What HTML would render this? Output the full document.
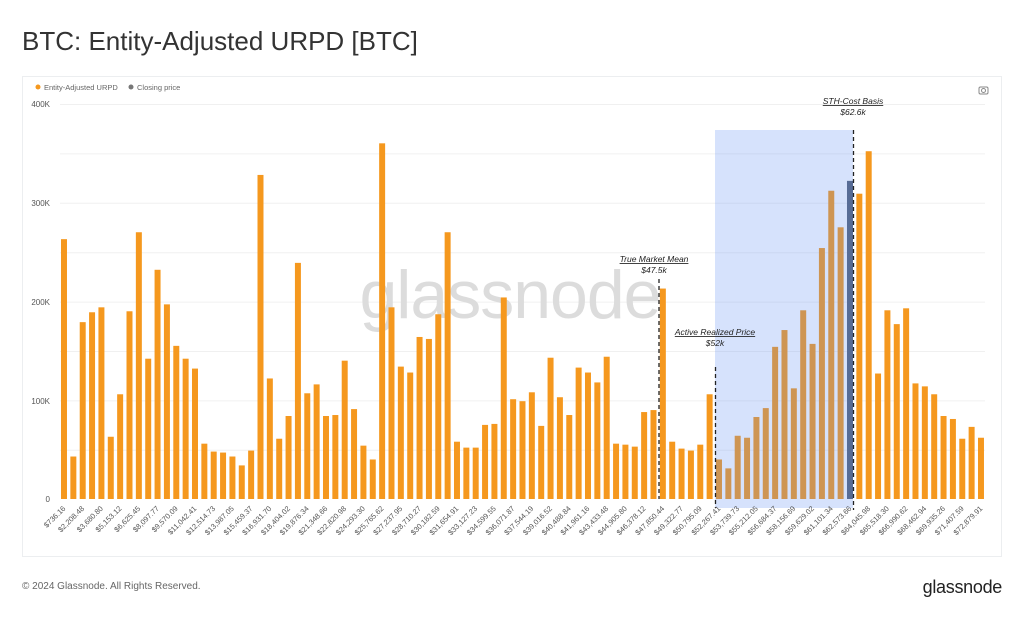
<!DOCTYPE html>
<html><head><meta charset="utf-8"><style>
body{margin:0;background:#fff;width:1024px;height:618px;overflow:hidden;font-family:"Liberation Sans",sans-serif}
</style></head><body>
<svg width="1024" height="618" xmlns="http://www.w3.org/2000/svg" font-family="Liberation Sans, sans-serif">
<text x="22" y="50" font-size="26" fill="#333">BTC: Entity-Adjusted URPD [BTC]</text>
<rect x="22.5" y="76.5" width="979" height="480" fill="#fff" stroke="#eceef0"/>
<circle cx="38" cy="87" r="2.5" fill="#f5981e"/>
<text x="44" y="90" font-size="7.5" fill="#666">Entity-Adjusted URPD</text>
<circle cx="131" cy="87" r="2.5" fill="#777"/>
<text x="137" y="90" font-size="7.5" fill="#666">Closing price</text>
<g fill="none" stroke="#888" stroke-width="1"><rect x="979" y="87" width="9" height="7" rx="1.5"/><circle cx="983.5" cy="90.5" r="2"/></g>
<g stroke="#f0f0f0" stroke-width="1">
<line x1="60" y1="104.5" x2="985" y2="104.5"/><line x1="60" y1="153.9" x2="985" y2="153.9"/><line x1="60" y1="203.3" x2="985" y2="203.3"/><line x1="60" y1="252.7" x2="985" y2="252.7"/><line x1="60" y1="302.1" x2="985" y2="302.1"/><line x1="60" y1="351.5" x2="985" y2="351.5"/><line x1="60" y1="400.9" x2="985" y2="400.9"/><line x1="60" y1="450.3" x2="985" y2="450.3"/>
</g>
<g font-size="8" fill="#555" text-anchor="end">
<text x="50" y="107">400K</text><text x="50" y="206">300K</text><text x="50" y="305">200K</text><text x="50" y="404">100K</text><text x="50" y="502">0</text>
</g>
<text x="510" y="318" font-size="68" fill="#dcdcdc" text-anchor="middle" letter-spacing="-1">glassnode</text>
<g transform="translate(61,499) scale(9.357,-0.988)" fill="#f5981e">
<rect x="0" width="0.64" height="263"/><rect x="1" width="0.64" height="43"/><rect x="2" width="0.64" height="179"/><rect x="3" width="0.64" height="189"/><rect x="4" width="0.64" height="194"/><rect x="5" width="0.64" height="63"/><rect x="6" width="0.64" height="106"/><rect x="7" width="0.64" height="190"/><rect x="8" width="0.64" height="270"/><rect x="9" width="0.64" height="142"/>
<rect x="10" width="0.64" height="232"/><rect x="11" width="0.64" height="197"/><rect x="12" width="0.64" height="155"/><rect x="13" width="0.64" height="142"/><rect x="14" width="0.64" height="132"/><rect x="15" width="0.64" height="56"/><rect x="16" width="0.64" height="48"/><rect x="17" width="0.64" height="47"/><rect x="18" width="0.64" height="43"/><rect x="19" width="0.64" height="34"/>
<rect x="20" width="0.64" height="49"/><rect x="21" width="0.64" height="328"/><rect x="22" width="0.64" height="122"/><rect x="23" width="0.64" height="61"/><rect x="24" width="0.64" height="84"/><rect x="25" width="0.64" height="239"/><rect x="26" width="0.64" height="107"/><rect x="27" width="0.64" height="116"/><rect x="28" width="0.64" height="84"/><rect x="29" width="0.64" height="85"/>
<rect x="30" width="0.64" height="140"/><rect x="31" width="0.64" height="91"/><rect x="32" width="0.64" height="54"/><rect x="33" width="0.64" height="40"/><rect x="34" width="0.64" height="360"/><rect x="35" width="0.64" height="194"/><rect x="36" width="0.64" height="134"/><rect x="37" width="0.64" height="128"/><rect x="38" width="0.64" height="164"/><rect x="39" width="0.64" height="162"/>
<rect x="40" width="0.64" height="187"/><rect x="41" width="0.64" height="270"/><rect x="42" width="0.64" height="58"/><rect x="43" width="0.64" height="52"/><rect x="44" width="0.64" height="52"/><rect x="45" width="0.64" height="75"/><rect x="46" width="0.64" height="76"/><rect x="47" width="0.64" height="204"/><rect x="48" width="0.64" height="101"/><rect x="49" width="0.64" height="99"/>
<rect x="50" width="0.64" height="108"/><rect x="51" width="0.64" height="74"/><rect x="52" width="0.64" height="143"/><rect x="53" width="0.64" height="103"/><rect x="54" width="0.64" height="85"/><rect x="55" width="0.64" height="133"/><rect x="56" width="0.64" height="128"/><rect x="57" width="0.64" height="118"/><rect x="58" width="0.64" height="144"/><rect x="59" width="0.64" height="56"/>
<rect x="60" width="0.64" height="55"/><rect x="61" width="0.64" height="53"/><rect x="62" width="0.64" height="88"/><rect x="63" width="0.64" height="90"/><rect x="64" width="0.64" height="213"/><rect x="65" width="0.64" height="58"/><rect x="66" width="0.64" height="51"/><rect x="67" width="0.64" height="49"/><rect x="68" width="0.64" height="55"/><rect x="69" width="0.64" height="106"/>
<rect x="70" width="0.64" height="40"/><rect x="71" width="0.64" height="31"/><rect x="72" width="0.64" height="64"/><rect x="73" width="0.64" height="62"/><rect x="74" width="0.64" height="83"/><rect x="75" width="0.64" height="92"/><rect x="76" width="0.64" height="154"/><rect x="77" width="0.64" height="171"/><rect x="78" width="0.64" height="112"/><rect x="79" width="0.64" height="191"/>
<rect x="80" width="0.64" height="157"/><rect x="81" width="0.64" height="254"/><rect x="82" width="0.64" height="312"/><rect x="83" width="0.64" height="275"/><rect x="84" width="0.64" height="322" fill="#566277"/><rect x="85" width="0.64" height="309"/><rect x="86" width="0.64" height="352"/><rect x="87" width="0.64" height="127"/><rect x="88" width="0.64" height="191"/><rect x="89" width="0.64" height="177"/>
<rect x="90" width="0.64" height="193"/><rect x="91" width="0.64" height="117"/><rect x="92" width="0.64" height="114"/><rect x="93" width="0.64" height="106"/><rect x="94" width="0.64" height="84"/><rect x="95" width="0.64" height="81"/><rect x="96" width="0.64" height="61"/><rect x="97" width="0.64" height="73"/><rect x="98" width="0.64" height="62"/>
</g>
<rect x="715" y="130" width="138" height="378" fill="rgb(90,140,245)" fill-opacity="0.25"/>
<g stroke="#222" stroke-width="1.3" stroke-dasharray="4,3">
<line x1="659" y1="279" x2="659" y2="499"/><line x1="715.5" y1="367" x2="715.5" y2="508"/><line x1="853.5" y1="130" x2="853.5" y2="510"/>
</g>
<g font-size="8.5" font-style="italic" fill="#222" text-anchor="middle">
<text x="654" y="262" text-decoration="underline">True Market Mean</text><text x="654" y="273">$47.5k</text>
<text x="715" y="335" text-decoration="underline">Active Realized Price</text><text x="715" y="346">$52k</text>
<text x="853" y="104" text-decoration="underline">STH-Cost Basis</text><text x="853" y="115">$62.6k</text>
</g>
<g font-size="7.5" fill="#555" text-anchor="end" transform="translate(66,509)">
<text transform="translate(0,0) rotate(-45)">$736.16</text>
<text transform="translate(18.71,0) rotate(-45)">$2,208.48</text>
<text transform="translate(37.43,0) rotate(-45)">$3,680.80</text>
<text transform="translate(56.14,0) rotate(-45)">$5,153.12</text>
<text transform="translate(74.86,0) rotate(-45)">$6,625.45</text>
<text transform="translate(93.57,0) rotate(-45)">$8,097.77</text>
<text transform="translate(112.29,0) rotate(-45)">$9,570.09</text>
<text transform="translate(131,0) rotate(-45)">$11,042.41</text>
<text transform="translate(149.71,0) rotate(-45)">$12,514.73</text>
<text transform="translate(168.43,0) rotate(-45)">$13,987.05</text>
<text transform="translate(187.14,0) rotate(-45)">$15,459.37</text>
<text transform="translate(205.86,0) rotate(-45)">$16,931.70</text>
<text transform="translate(224.57,0) rotate(-45)">$18,404.02</text>
<text transform="translate(243.29,0) rotate(-45)">$19,876.34</text>
<text transform="translate(262,0) rotate(-45)">$21,348.66</text>
<text transform="translate(280.71,0) rotate(-45)">$22,820.98</text>
<text transform="translate(299.43,0) rotate(-45)">$24,293.30</text>
<text transform="translate(318.14,0) rotate(-45)">$25,765.62</text>
<text transform="translate(336.86,0) rotate(-45)">$27,237.95</text>
<text transform="translate(355.57,0) rotate(-45)">$28,710.27</text>
<text transform="translate(374.29,0) rotate(-45)">$30,182.59</text>
<text transform="translate(393,0) rotate(-45)">$31,654.91</text>
<text transform="translate(411.71,0) rotate(-45)">$33,127.23</text>
<text transform="translate(430.43,0) rotate(-45)">$34,599.55</text>
<text transform="translate(449.14,0) rotate(-45)">$36,071.87</text>
<text transform="translate(467.86,0) rotate(-45)">$37,544.19</text>
<text transform="translate(486.57,0) rotate(-45)">$39,016.52</text>
<text transform="translate(505.29,0) rotate(-45)">$40,488.84</text>
<text transform="translate(524,0) rotate(-45)">$41,961.16</text>
<text transform="translate(542.71,0) rotate(-45)">$43,433.48</text>
<text transform="translate(561.43,0) rotate(-45)">$44,905.80</text>
<text transform="translate(580.14,0) rotate(-45)">$46,378.12</text>
<text transform="translate(598.86,0) rotate(-45)">$47,850.44</text>
<text transform="translate(617.57,0) rotate(-45)">$49,322.77</text>
<text transform="translate(636.29,0) rotate(-45)">$50,795.09</text>
<text transform="translate(655,0) rotate(-45)">$52,267.41</text>
<text transform="translate(673.71,0) rotate(-45)">$53,739.73</text>
<text transform="translate(692.43,0) rotate(-45)">$55,212.05</text>
<text transform="translate(711.14,0) rotate(-45)">$56,684.37</text>
<text transform="translate(729.86,0) rotate(-45)">$58,156.69</text>
<text transform="translate(748.57,0) rotate(-45)">$59,629.02</text>
<text transform="translate(767.29,0) rotate(-45)">$61,101.34</text>
<text transform="translate(786,0) rotate(-45)">$62,573.66</text>
<text transform="translate(804.71,0) rotate(-45)">$64,045.98</text>
<text transform="translate(823.43,0) rotate(-45)">$65,518.30</text>
<text transform="translate(842.14,0) rotate(-45)">$66,990.62</text>
<text transform="translate(860.86,0) rotate(-45)">$68,462.94</text>
<text transform="translate(879.57,0) rotate(-45)">$69,935.26</text>
<text transform="translate(898.29,0) rotate(-45)">$71,407.59</text>
<text transform="translate(917,0) rotate(-45)">$72,879.91</text>
</g>
<text x="22" y="589" font-size="10" fill="#666">© 2024 Glassnode. All Rights Reserved.</text>
<text x="1002" y="593" font-size="18" fill="#222" text-anchor="end" letter-spacing="-0.3">glassnode</text>
</svg>
</body></html>
